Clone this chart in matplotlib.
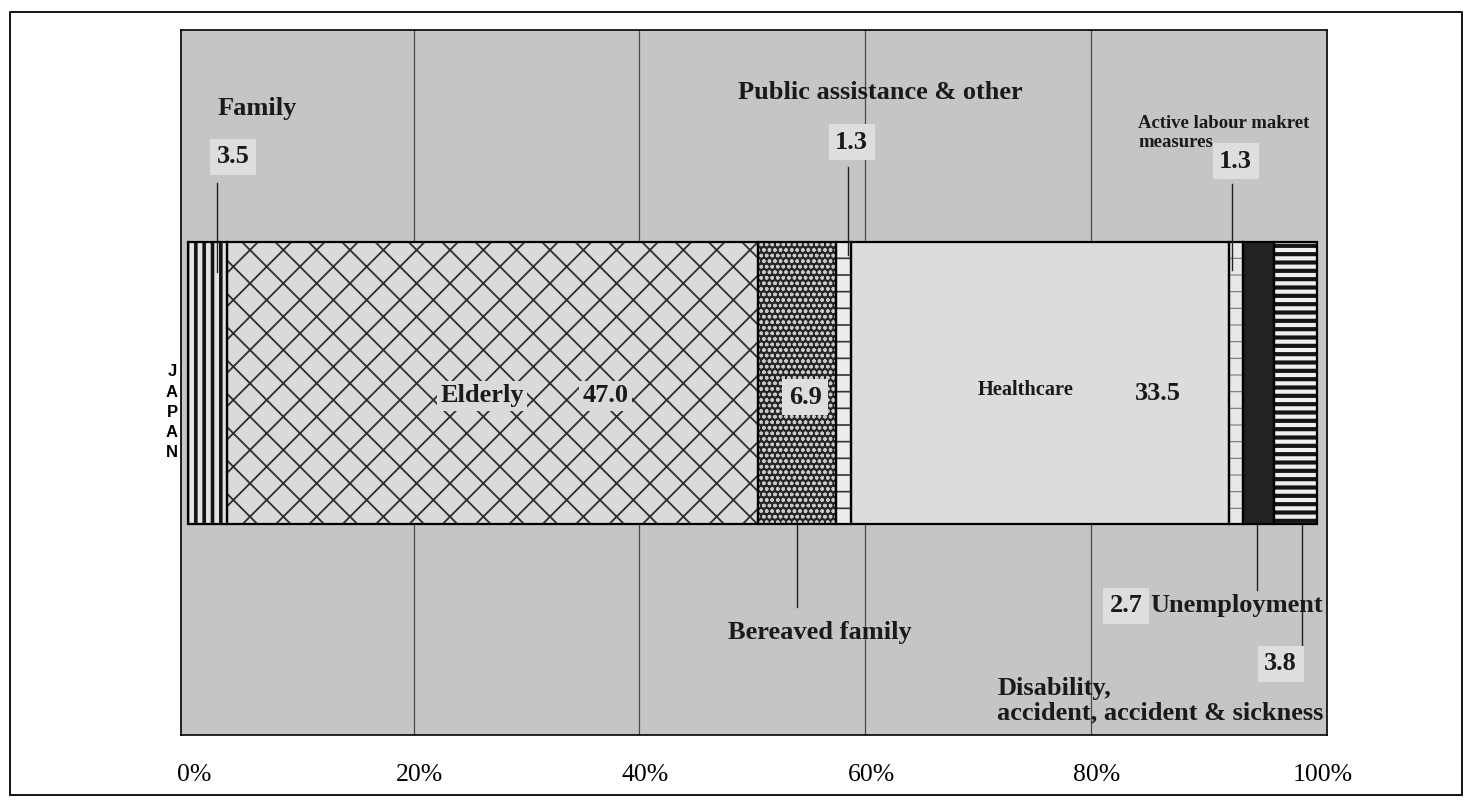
import matplotlib
matplotlib.use("Agg")
import matplotlib.pyplot as plt
from matplotlib.patches import Rectangle
import matplotlib.transforms as mtransforms

# ---- data ----
country = "JAPAN"
categories = ["Family", "Elderly", "Bereaved family", "Public assistance & other",
              "Healthcare", "Active labour makret measures", "Unemployment",
              "Disability, accident, accident & sickness"]
values = [3.5, 47.0, 6.9, 1.3, 33.5, 1.3, 2.7, 3.8]
tick_values = [0, 20, 40, 60, 80, 100]
tick_labels = ["0%", "20%", "40%", "60%", "80%", "100%"]

# ---- styles ----
styles = [
    dict(fc="#e4e4e4", hatch="||", hc="#151515", hlw=2.6),
    dict(fc="#dadada", hatch="x", hc="#2e2e2e", hlw=1.3),
    dict(fc="#262626", hatch="ooo", hc="#c8c8c8", hlw=1.0),
    dict(fc="#ececec", hatch="-", hc="#333333", hlw=1.2),
    dict(fc="#dcdcdc", hatch="", hc="#dcdcdc", hlw=1.0),
    dict(fc="#e8e8e8", hatch="-", hc="#777777", hlw=0.8),
    dict(fc="#222222", hatch="", hc="#222222", hlw=1.0),
    dict(fc="#f0f0f0", hatch="--", hc="#151515", hlw=3.0),
]

serif = ["Liberation Serif", "DejaVu Serif"]
plt.rcParams["font.family"] = serif

W, H = 1471, 807
fig = plt.figure(figsize=(W / 100, H / 100), dpi=100)
fig.patch.set_facecolor("white")

# outer frame
fig.patches.append(Rectangle((10 / W, 1 - 795 / H), 1452 / W, 783 / H,
                             transform=fig.transFigure, fill=False,
                             ec="black", lw=1.3))

ax = fig.add_axes([181 / W, 1 - 735 / H, 1146 / W, 705 / H])
ax.set_facecolor("#c5c5c5")
ax.set_xlim(-0.6, 100.9)
ax.set_ylim(0, 1)

# grid lines
for t in tick_values[1:-1]:
    ax.axvline(t, color="#4a4a4a", lw=0.9, zorder=1)

left = 0.0
for v, st in zip(values, styles):
    with plt.rc_context({"hatch.linewidth": st["hlw"], "hatch.color": st["hc"]}):
        ax.barh(0.5, v, left=left, height=0.4, color=st["fc"],
                hatch=st["hatch"], edgecolor=st["hc"], lw=0, zorder=2)
    ax.barh(0.5, v, left=left, height=0.4, fill=False,
            edgecolor="black", lw=1.6, zorder=3)
    left += v

# ticks
ax.set_yticks([])
ax.set_xticks(tick_values)
ax.set_xticklabels(tick_labels, fontsize=18.5, family=serif)
ax.tick_params(axis="x", length=0, pad=21)
offset = mtransforms.ScaledTranslation(6 / 100, 0, fig.dpi_scale_trans)
for lab in ax.get_xticklabels():
    lab.set_transform(lab.get_transform() + offset)
for s in ax.spines.values():
    s.set_color("black")
    s.set_linewidth(1.2)

bold = dict(fontweight="bold", family=serif, color="#1a1a1a")
box = dict(boxstyle="square,pad=0.25", fc="#dedede", ec="none")
BIG = 19

def label(x, y, s, size=BIG, ha="center", bbox=None, **kw):
    ax.text(x, y, s, fontsize=size, ha=ha, va="center", bbox=bbox,
            zorder=6, clip_on=False, **bold, **kw)

def leader(x, y0, y1):
    ax.plot([x, x], [y0, y1], color="#222222", lw=1.0, zorder=5, clip_on=False)

# top labels
label(2.67, 0.888, categories[0], ha="left")
label(4.0, 0.820, f"{values[0]:.1f}", bbox=box)
leader(2.6, 0.783, 0.657)

label(61.3, 0.911, categories[3])
label(58.8, 0.841, f"{values[3]:.1f}", bbox=box)
leader(58.5, 0.805, 0.681)

label(84.2, 0.854, "Active labour makret\nmeasures", size=13.5, ha="left",
      linespacing=1.15)
label(92.8, 0.814, f"{values[5]:.1f}", bbox=box)
leader(92.5, 0.781, 0.660)

# inside labels
halo = dict(boxstyle="square,pad=0.12", fc="#dadada", ec="none")
label(26.1, 0.481, categories[1], bbox=halo)
label(37.0, 0.481, f"{values[1]:.1f}", bbox=halo)
label(54.7, 0.479, f"{values[2]:.1f}", bbox=box)
label(74.2, 0.489, categories[4], size=14.7)
label(85.9, 0.485, f"{values[4]:.1f}")

# bottom labels
label(56.0, 0.146, categories[2])
leader(54.0, 0.298, 0.182)

label(83.1, 0.183, f"{values[6]:.1f}", bbox=box)
label(85.3, 0.183, categories[6], ha="left")
leader(94.7, 0.298, 0.205)

label(96.8, 0.101, f"{values[7]:.1f}", bbox=box)
leader(98.7, 0.298, 0.128)
label(71.7, 0.066, "Disability,", ha="left")
label(71.7, 0.032, "accident, accident & sickness", ha="left")

# country label, vertical letters
for i, ch in enumerate(country):
    ax.text(-1.4, 0.515 - i * 0.0285, ch, fontsize=12, fontweight="bold",
            family=["Liberation Sans", "DejaVu Sans"], ha="center",
            va="center", clip_on=False)

fig.savefig("out.png", dpi=100)
